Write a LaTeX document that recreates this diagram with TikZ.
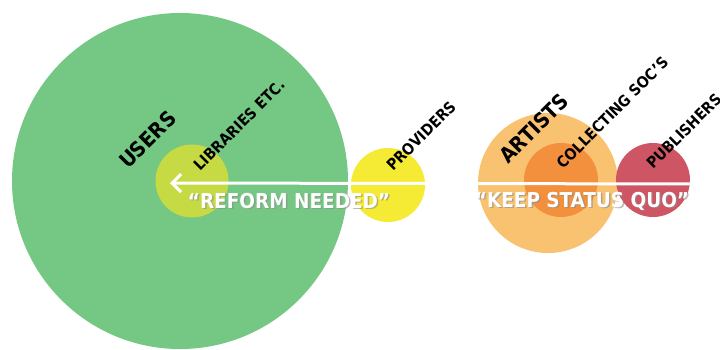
\documentclass[tikz,border=0pt]{standalone}
\usepackage{fontspec}
\setmainfont{DejaVu Sans Condensed}
\usetikzlibrary{arrows.meta}

\definecolor{usergreen}{RGB}{116,200,132}
\definecolor{libgreen}{RGB}{198,218,68}
\definecolor{provyellow}{RGB}{245,235,52}
\definecolor{artorange}{RGB}{249,194,112}
\definecolor{socorange}{RGB}{242,144,62}
\definecolor{pubred}{RGB}{206,86,100}

\tikzset{
  blob/.style={circle, inner sep=0pt, minimum size=#1},
  tag/.style={font=\bfseries\fontsize{#1}{#1}\selectfont, rotate=45, anchor=base west, inner sep=0pt},
  motto/.style={text=white, font=\bfseries\fontsize{20.5}{20.5}\selectfont, inner sep=0pt},
  shade/.style={text=black!45, opacity=0.6, font=\bfseries\fontsize{20.5}{20.5}\selectfont, inner sep=0pt},
}

\begin{document}
\begin{tikzpicture}[x=1pt,y=-1pt]
  \useasboundingbox (0,0) rectangle (720,349);

  % the groups
  \node[blob=336pt, fill=usergreen] (users) at (180,181) {};
  \node[blob=73pt, fill=libgreen] (libs) at (192,181) {};
  \node[blob=74pt, fill=provyellow] (prov) at (388,185) {};
  \node[blob=140pt, fill=artorange] (artists) at (548,183) {};
  \node[blob=74pt, fill=socorange] (socs) at (561,180) {};
  \node[blob=74pt, fill=pubred] (pubs) at (653,180) {};

  % names
  \node[tag=21] (usersname) at (128,170) {USERS};
  \node[tag=15.5] (libsname) at (200,172) {LIBRARIES ETC.};
  \node[tag=15.5] (provname) at (393,172) {PROVIDERS};
  \node[tag=21] (artistsname) at (508,165) {ARTISTS};
  \node[tag=15.5] (socsname) at (563,170) {COLLECTING SOC'S};
  \node[tag=15.5] (pubsname) at (653,170) {PUBLISHERS};

  % the two camps
  \coordinate (left) at (170,183);
  \coordinate (right) at (702,184);
  \draw[white, line width=3pt, {Straight Barb[length=9pt,width=18pt]}-{Straight Barb[length=9pt,width=18pt]}] (left) -- (right);

  \node[shade] (reformshade) at (290.5,202.5) {``REFORM NEEDED''};
  \node[motto] (reform) at (289,201) {``REFORM NEEDED''};
  \node[shade] (quoshade) at (583.5,202.5) {``KEEP STATUS QUO''};
  \node[motto] (quo) at (582,201) {``KEEP STATUS QUO''};
\end{tikzpicture}
\end{document}
